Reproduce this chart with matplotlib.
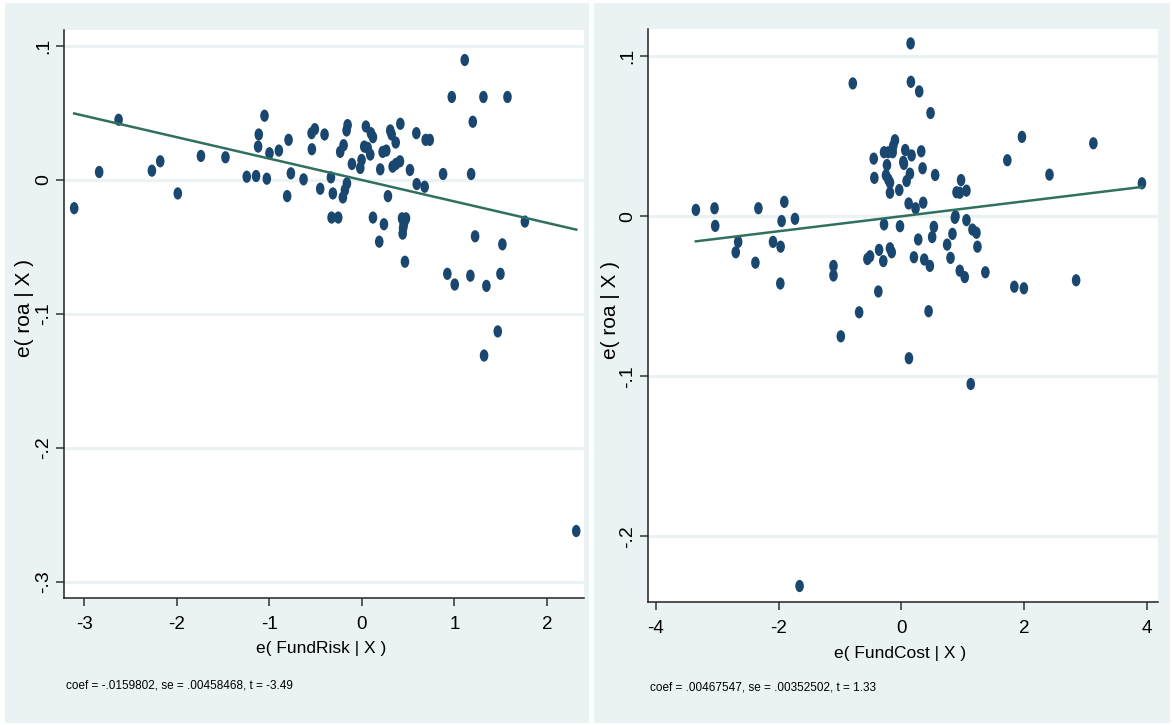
import numpy as np
import matplotlib
matplotlib.use("Agg")
import matplotlib.pyplot as plt
from matplotlib.path import Path
from matplotlib.patches import Rectangle

plt.rcParams['font.family'] = ['Liberation Sans', 'DejaVu Sans']

# left panel: e(roa|X) vs e(FundRisk|X)
risk_x = [-3.11, -2.84, -2.63, -2.27, -2.18, -1.99, -1.74, -1.475, -1.245, -1.144,
          -1.028, -1.053, -1.115, -1.122, -0.999, -0.898, -0.793, -0.768, -0.808, -0.631,
          -0.544, -0.509, -0.541, -0.404, -0.451, -0.335, -0.314, -0.328, -0.256, -0.235,
          -0.198, -0.155, -0.166, -0.108, -0.162, -0.184, -0.206, -0.018, -0.004, 0.025,
          0.043, 0.097, 0.119, 0.09, 0.062, 0.198, 0.224, 0.263, 0.281, 0.119,
          0.238, 0.187, 0.306, 0.321, 0.365, 0.332, 0.368, 0.411, 0.415, 0.519,
          0.588, 0.689, 0.733, 0.592, 0.678, 0.877, 0.433, 0.476, 0.451, 0.44,
          0.46, 0.445, 0.465, 0.923, 1.111, 0.971, 1.313, 1.573, 1.198, 1.18,
          1.761, 1.223, 1.518, 1.003, 1.172, 1.345, 1.497, 1.468, 1.32, 2.316]
risk_y = [-0.021, 0.006, 0.045, 0.007, 0.014, -0.010, 0.018, 0.017, 0.0025, 0.003,
          0.001, 0.048, 0.034, 0.025, 0.020, 0.022, 0.030, 0.005, -0.012, 0.0005,
          0.035, 0.038, 0.023, 0.034, -0.0065, 0.002, -0.010, -0.028, -0.028, 0.021,
          0.026, 0.041, 0.037, 0.012, -0.0025, -0.0075, -0.013, 0.009, 0.015, 0.025,
          0.040, 0.035, 0.032, 0.019, 0.024, 0.008, 0.021, 0.022, -0.012, -0.028,
          -0.033, -0.046, 0.037, 0.034, 0.028, 0.010, 0.012, 0.014, 0.042, 0.0075,
          0.035, 0.030, 0.030, -0.003, -0.005, 0.0045, -0.0286, -0.0286, -0.0336, -0.040,
          -0.031, -0.036, -0.061, -0.070, 0.0896, 0.062, 0.062, 0.062, 0.0435, 0.0045,
          -0.031, -0.042, -0.048, -0.078, -0.0714, -0.079, -0.070, -0.113, -0.131, -0.262]

# right panel: e(roa|X) vs e(FundCost|X)
cost_x = [-3.35, -3.046, -3.035, -2.661, -2.70, -2.331, -2.38, -1.909, -1.953, -2.093,
          -1.969, -1.974, -1.735, -1.108, -1.108, -0.988, -0.793, -0.69, -0.377, -0.452,
          -0.442, 0.149, 0.154, 0.289, 0.474, 1.963, 1.725, -0.106, -0.284, -0.214,
          -0.143, -0.133, -0.236, -0.252, -0.214, -0.187, -0.187, -0.036, 0.062, 0.03,
          0.04, 0.165, 0.322, 0.344, 0.138, 0.084, 0.549, 0.117, 0.23, 0.354,
          0.971, 0.897, 0.95, 1.059, 0.88, 1.059, -0.284, -0.024, -0.555, -0.512,
          -0.365, -0.296, -0.187, -0.159, 0.122, 1.129, 0.273, 0.203, 0.371, 0.463,
          0.5, 0.528, 0.442, 0.831, 0.744, 0.799, 1.157, 1.222, 1.238, 0.95,
          1.031, 1.367, 1.839, 1.995, 2.412, 3.127, 3.918, 2.846, -1.66, 0.87]
cost_y = [0.004, 0.005, -0.006, -0.016, -0.0225, 0.005, -0.029, 0.009, -0.003, -0.016,
          -0.019, -0.042, -0.0016, -0.031, -0.037, -0.075, 0.083, -0.060, -0.047, 0.036,
          0.024, 0.108, 0.084, 0.078, 0.0645, 0.0496, 0.035, 0.0475, 0.040, 0.040,
          0.040, 0.044, 0.032, 0.0256, 0.023, 0.021, 0.0147, 0.0164, 0.0414, 0.034,
          0.0327, 0.038, 0.0406, 0.030, 0.0266, 0.022, 0.0258, 0.008, 0.005, 0.0085,
          0.0226, 0.015, 0.0147, 0.016, 0.0, -0.0024, -0.0051, -0.0062, -0.0267, -0.025,
          -0.021, -0.028, -0.020, -0.0225, -0.0887, -0.1048, -0.0145, -0.0256, -0.027, -0.031,
          -0.013, -0.0066, -0.0593, -0.011, -0.0177, -0.026, -0.0083, -0.0103, -0.019, -0.034,
          -0.038, -0.035, -0.044, -0.045, 0.026, 0.0456, 0.0206, -0.040, -0.231, -0.001]

risk_coef = -0.0159802
cost_coef = 0.00467547

risk_note = "coef = -.0159802, se = .00458468, t = -3.49"
cost_note = "coef = .00467547, se = .00352502, t = 1.33"

risk_yticks = [-0.3, -0.2, -0.1, 0, 0.1]
risk_ylabels = ['-.3', '-.2', '-.1', '0', '.1']
risk_xticks = [-3, -2, -1, 0, 1, 2]
cost_yticks = [-0.2, -0.1, 0, 0.1]
cost_ylabels = ['-.2', '-.1', '0', '.1']
cost_xticks = [-4, -2, 0, 2, 4]

bg = '#eaf2f3'
dot = '#1a476f'
fit = '#30705f'

# tall ellipse marker like the stata export
circ = Path.unit_circle()
oval = Path(circ.vertices * np.array([0.7, 1.0]), circ.codes)

fig = plt.figure(figsize=(11.73, 7.25), dpi=100)
fig.patch.set_facecolor('white')
for x0, w in [(5, 584), (594, 576)]:
    r = Rectangle((x0/1173, 2/725), w/1173, 720/725, transform=fig.transFigure,
                  facecolor=bg, edgecolor='none', zorder=-10)
    fig.add_artist(r)

ax1 = fig.add_axes([64/1173, 1 - 598/725, 520/1173, 568/725])
ax2 = fig.add_axes([648/1173, 1 - 602/725, 510/1173, 573/725])

panels = [
    (ax1, risk_x, risk_y, risk_coef, risk_yticks, risk_ylabels, risk_xticks,
     (-3.22, 2.40), (-0.312, 0.112), 'e( FundRisk | X )', risk_note,
     (66/1173, 1 - 686/725), -0.058),
    (ax2, cost_x, cost_y, cost_coef, cost_yticks, cost_ylabels, cost_xticks,
     (-4.13, 4.18), (-0.241, 0.117), 'e( FundCost | X )', cost_note,
     (650/1173, 1 - 688/725), -0.055),
]

for ax, xs, ys, coef, yt, yl, xt, xlim, ylim, xlab, note, npos, ylx in panels:
    ax.set_facecolor('white')
    ax.set_xlim(*xlim)
    ax.set_ylim(*ylim)
    ax.set_yticks(yt)
    ax.set_yticklabels(yl, rotation=90, va='center', fontsize=14)
    ax.set_xticks(xt)
    ax.set_xticklabels([str(t) for t in xt], fontsize=13.5)
    for t in yt:
        ax.axhline(t, color=bg, lw=2.2, zorder=1)
    ax.scatter(xs, ys, marker=oval, s=78, color=dot, edgecolors='none', zorder=3)
    xx = np.array([min(xs), max(xs)])
    ax.plot(xx, coef * xx, color=fit, lw=1.8, zorder=4)
    for s in ['top', 'right']:
        ax.spines[s].set_visible(False)
    for s in ['left', 'bottom']:
        ax.spines[s].set_color('#222222')
        ax.spines[s].set_linewidth(1.1)
    ax.tick_params(axis='both', direction='out', length=6, width=1.1, color='#333333')
    ax.tick_params(axis='x', pad=7)
    ax.tick_params(axis='y', pad=2.5)
    ax.set_ylabel('e( roa | X )', fontsize=15)
    ax.yaxis.set_label_coords(ylx, 0.51)
    ax.set_xlabel(xlab, fontsize=12.5)
    ax.xaxis.set_label_coords(0.495, -0.076)
    fig.text(npos[0], npos[1], note, fontsize=8.5, va='center', ha='left')

fig.savefig('out.png', dpi=100, facecolor=fig.get_facecolor())
